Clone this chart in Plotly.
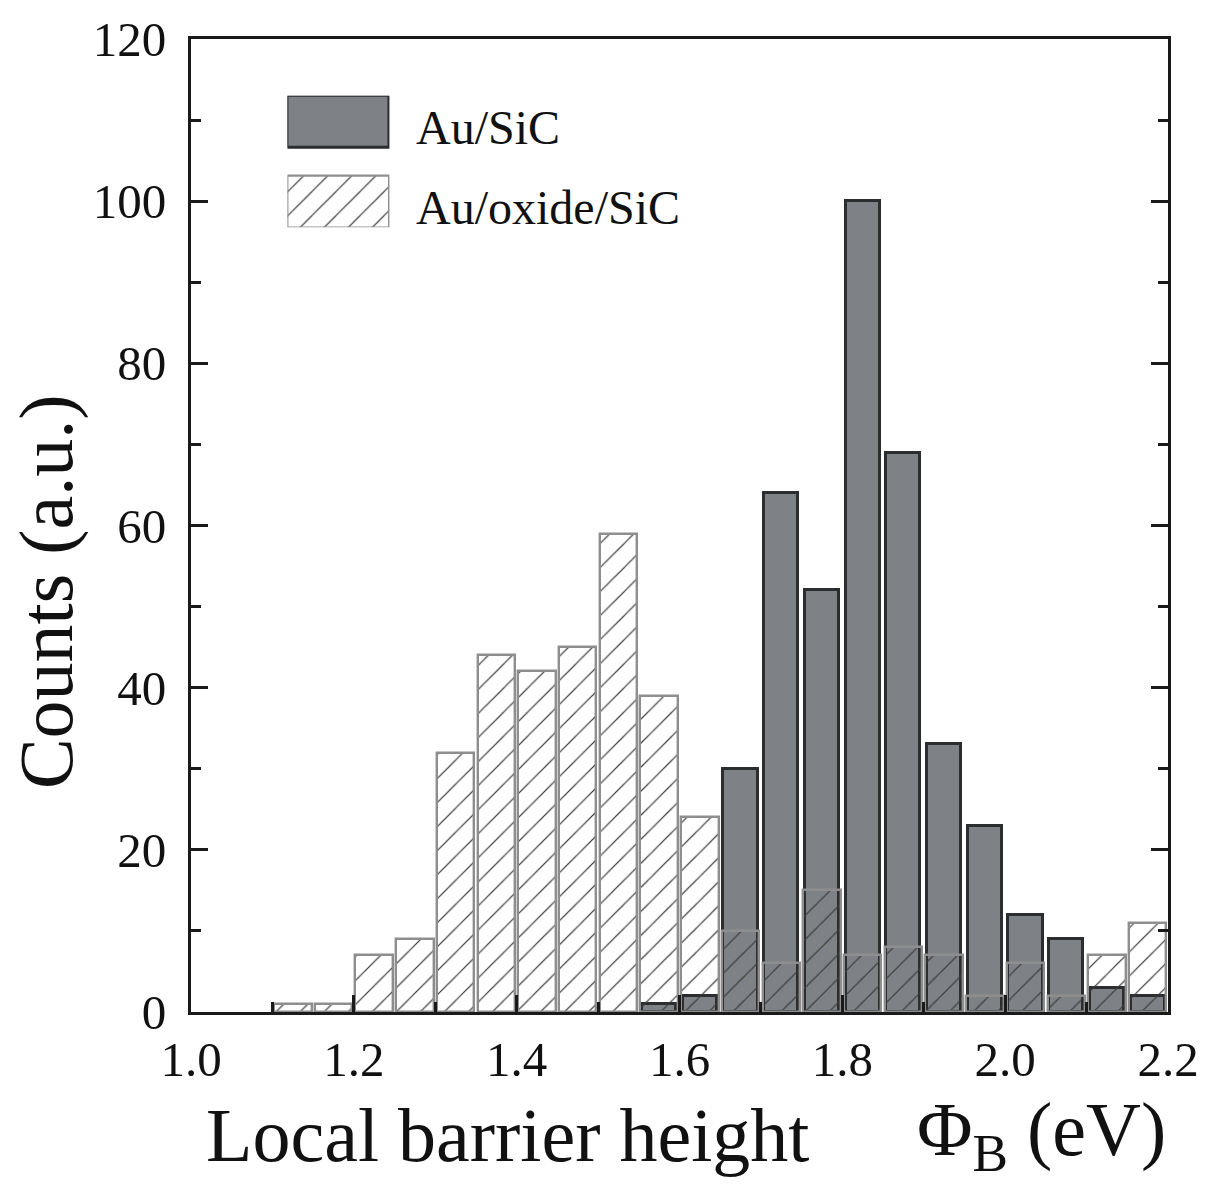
import plotly.graph_objects as go

# Histogram bin centres (eV) and counts for the two contact types
au_sic_centers = [1.575, 1.625, 1.675, 1.725, 1.775, 1.825, 1.875, 1.925,
                  1.975, 2.025, 2.075, 2.125, 2.175]
au_sic_counts = [1, 2, 30, 64, 52, 100, 69, 33, 23, 12, 9, 3, 2]

oxide_centers = [1.125, 1.175, 1.225, 1.275, 1.325, 1.375, 1.425, 1.475,
                 1.525, 1.575, 1.625, 1.675, 1.725, 1.775, 1.825, 1.875,
                 1.925, 1.975, 2.025, 2.075, 2.125, 2.175]
oxide_counts = [1, 1, 7, 9, 32, 44, 42, 45, 59, 39, 24, 10, 6, 15, 7, 8,
                7, 2, 6, 2, 7, 11]

series_names = ["Au/SiC", "Au/oxide/SiC"]
x_ticks = [1.0, 1.2, 1.4, 1.6, 1.8, 2.0, 2.2]
y_ticks = [0, 20, 40, 60, 80, 100, 120]

FONT = "Liberation Serif, Times New Roman, serif"
GRAY_FILL = "#7e8286"
DARK_EDGE = "#2b2d2f"
HATCH = "#3a3a3a"
HATCH_EDGE = "#8e8e8e"

solid_marker = dict(color=GRAY_FILL, line=dict(color=DARK_EDGE, width=3))
hatch_marker = dict(
    color="rgba(0,0,0,0)",
    line=dict(color=HATCH_EDGE, width=2.4),
    pattern=dict(shape="/", fgcolor=HATCH, size=17, solidity=0.07,
                 fillmode="replace"),
)

fig = go.Figure()

fig.add_trace(go.Bar(x=au_sic_centers, y=au_sic_counts, width=0.042,
                     name=series_names[0], marker=solid_marker,
                     showlegend=False))
fig.add_trace(go.Bar(x=oxide_centers, y=oxide_counts, width=0.046,
                     name=series_names[1], marker=hatch_marker,
                     showlegend=False))

# Legend swatches drawn as bars in a small inset axis pair
fig.add_trace(go.Bar(x=[1], y=[1], base=0, orientation="h", width=0.65,
                     marker=solid_marker, xaxis="x2", yaxis="y2",
                     showlegend=False, hoverinfo="skip"))
fig.add_trace(go.Bar(x=[1], y=[0], base=0, orientation="h", width=0.65,
                     marker=hatch_marker, xaxis="x2", yaxis="y2",
                     showlegend=False, hoverinfo="skip"))

axis_common = dict(
    showline=True, linecolor="#1a1a1a", linewidth=3,
    ticks="inside", tickcolor="#1a1a1a", tickwidth=3, ticklen=17,
    showgrid=False, zeroline=False,
    tickfont=dict(family=FONT, size=49, color="#111"),
)

fig.update_layout(
    width=1211, height=1187,
    margin=dict(l=191, r=42, t=36, b=175),
    paper_bgcolor="white", plot_bgcolor="white",
    barmode="overlay",
    bargap=0,
    xaxis=dict(range=[1.0, 2.2], tickvals=x_ticks,
               ticktext=[f"{v:.1f}" for v in x_ticks],
               mirror=True, ticklabelstandoff=2,
               minor=dict(dtick=0.1, tick0=1.0, ticks="inside", ticklen=10,
                          tickwidth=3, tickcolor="#1a1a1a"),
               **axis_common),
    yaxis=dict(range=[0, 120], tickvals=y_ticks, mirror="ticks",
               ticklabelstandoff=12,
               minor=dict(dtick=10, tick0=0, ticks="inside", ticklen=10,
                          tickwidth=3, tickcolor="#1a1a1a"),
               **axis_common),
    xaxis2=dict(domain=[0.0987, 0.2031], range=[0, 1], visible=False,
                anchor="y2"),
    yaxis2=dict(domain=[0.8064, 0.9416], range=[-0.325, 1.325],
                visible=False, anchor="x2"),
)

annotations = [
    dict(text="Local barrier height", x=0.0138, y=-0.126, xref="paper",
         yref="paper", xanchor="left", yanchor="middle", showarrow=False,
         font=dict(family=FONT, size=76, color="#111")),
    dict(text="Φ<sub>B</sub> (eV)", x=0.741, y=-0.126, xref="paper",
         yref="paper", xanchor="left", yanchor="middle", showarrow=False,
         font=dict(family=FONT, size=76, color="#111")),
    dict(text="Counts (a.u.)", x=-0.148, y=0.432, xref="paper", yref="paper",
         xanchor="center", yanchor="middle", textangle=-90, showarrow=False,
         font=dict(family=FONT, size=76, color="#111")),
    dict(text=series_names[0], x=0.2282, y=0.9088, xref="paper", yref="paper",
         xanchor="left", yanchor="middle", showarrow=False,
         font=dict(family=FONT, size=48, color="#111")),
    dict(text=series_names[1], x=0.2282, y=0.8269, xref="paper", yref="paper",
         xanchor="left", yanchor="middle", showarrow=False,
         font=dict(family=FONT, size=48, color="#111")),
]
fig.update_layout(annotations=annotations)

fig.write_html("out.html")
